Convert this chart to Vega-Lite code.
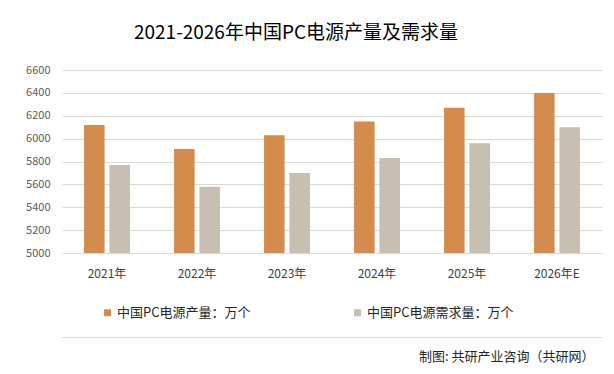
{
  "$schema": "https://vega.github.io/schema/vega-lite/v6.json",
  "width": 540,
  "height": 183,
  "autosize": {"type": "none"},
  "padding": {"left": 62, "top": 70, "right": 12, "bottom": 121},
  "background": "white",
  "title": {
    "text": "2021-2026年中国PC电源产量及需求量",
    "font": "Noto Sans CJK SC",
    "fontSize": 19,
    "fontWeight": "normal",
    "color": "#000000",
    "anchor": "middle",
    "frame": "group",
    "baseline": "alphabetic",
    "dx": -36,
    "offset": 6
  },
  "config": {
    "font": "Noto Sans CJK SC",
    "view": {"stroke": null}
  },
  "data": {
    "values": [
      {"year": "2021年", "type": "中国PC电源产量：万个", "value": 6120},
      {"year": "2021年", "type": "中国PC电源需求量：万个", "value": 5770},
      {"year": "2022年", "type": "中国PC电源产量：万个", "value": 5910},
      {"year": "2022年", "type": "中国PC电源需求量：万个", "value": 5580},
      {"year": "2023年", "type": "中国PC电源产量：万个", "value": 6030},
      {"year": "2023年", "type": "中国PC电源需求量：万个", "value": 5700},
      {"year": "2024年", "type": "中国PC电源产量：万个", "value": 6150},
      {"year": "2024年", "type": "中国PC电源需求量：万个", "value": 5830},
      {"year": "2025年", "type": "中国PC电源产量：万个", "value": 6270},
      {"year": "2025年", "type": "中国PC电源需求量：万个", "value": 5960},
      {"year": "2026年E", "type": "中国PC电源产量：万个", "value": 6400},
      {"year": "2026年E", "type": "中国PC电源需求量：万个", "value": 6100}
    ]
  },
  "layer": [
    {
      "mark": {"type": "bar", "clip": true},
      "encoding": {
        "x": {
          "field": "year",
          "type": "nominal",
          "sort": ["2021年", "2022年", "2023年", "2024年", "2025年", "2026年E"],
          "scale": {"paddingInner": 0.49, "paddingOuter": 0.245},
          "axis": {
            "title": "制图: 共研产业咨询（共研网）",
            "titleFontSize": 13,
            "titleFontWeight": "normal",
            "titleColor": "#262626",
            "titleX": 532,
            "titleY": 103,
            "titleAlign": "right",
            "titleBaseline": "middle",
            "labelAngle": 0,
            "labelFontSize": 12,
            "labelColor": "#404040",
            "labelPadding": 15,
            "domain": false,
            "ticks": false
          }
        },
        "y": {
          "field": "value",
          "type": "quantitative",
          "scale": {"domain": [5000, 6600], "zero": false, "nice": false},
          "axis": {
            "title": null,
            "values": [5000, 5200, 5400, 5600, 5800, 6000, 6200, 6400, 6600],
            "tickCount": 9,
            "format": "d",
            "labelOverlap": false,
            "grid": true,
            "gridColor": "#D9D9D9",
            "domain": false,
            "ticks": false,
            "labelFontSize": 11,
            "labelColor": "#595959",
            "labelPadding": 12
          }
        },
        "xOffset": {
          "field": "type",
          "type": "nominal",
          "sort": ["中国PC电源产量：万个", "中国PC电源需求量：万个"],
          "scale": {"paddingInner": 0.19, "paddingOuter": 0}
        },
        "color": {
          "field": "type",
          "type": "nominal",
          "sort": ["中国PC电源产量：万个", "中国PC电源需求量：万个"],
          "scale": {
            "domain": ["中国PC电源产量：万个", "中国PC电源需求量：万个"],
            "range": ["#D38B4E", "#C8BEB2"]
          },
          "legend": {
            "title": null,
            "orient": "none",
            "legendX": 39,
            "legendY": 236,
            "direction": "horizontal",
            "columns": 2,
            "columnPadding": 100,
            "symbolType": "square",
            "symbolSize": 49,
            "symbolStrokeWidth": 0,
            "labelFontSize": 13,
            "labelColor": "#262626",
            "labelOffset": 3
          }
        }
      }
    },
    {
      "mark": {"type": "rule", "color": "#D9D9D9", "strokeWidth": 1},
      "encoding": {
        "y": {"datum": 4261, "type": "quantitative"}
      }
    }
  ]
}
